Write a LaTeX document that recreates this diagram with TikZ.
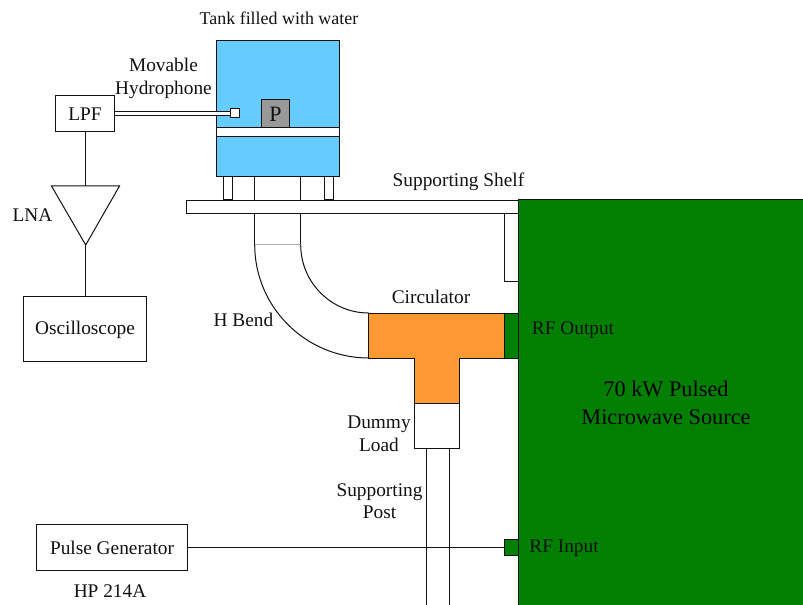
\documentclass[tikz,border=0pt]{standalone}
\usepackage{fontspec}
\setmainfont{Liberation Serif}
\definecolor{tankblue}{HTML}{66CCFF}
\definecolor{circorange}{HTML}{FF9933}
\definecolor{srcgreen}{HTML}{007F00}
\definecolor{pgray}{HTML}{999999}
\definecolor{lineink}{HTML}{111111}
\tikzset{
  ln/.style={draw=lineink,line width=1bp},
  box/.style={ln,fill=white,inner sep=0pt,outer sep=0pt},
  lbl/.style={inner sep=0pt,font=\fontsize{19.4}{23}\selectfont,align=center,text=lineink,yshift=-1.2bp},
  biglbl/.style={inner sep=0pt,font=\fontsize{22.4}{27.5}\selectfont,align=center,text=black},
}
\newcommand{\rbox}[6][]{\node[box,#1,minimum width=#4 bp - #3 bp,minimum height=#6 bp - #5 bp] (#2) at ({(#3+#4)/2},{(#5+#6)/2}) {};}
\begin{document}
\begin{tikzpicture}[x=1bp,y=-1bp]
\useasboundingbox (0,0) rectangle (803,605);
% shelf and its support
\rbox{shelf}{186.7}{518.3}{200.7}{213.3}
\coordinate (suppA) at (504.7,213.3);
\coordinate (suppB) at (504.7,281);
\coordinate (suppC) at (518.3,281);
\draw[ln] (suppA) -- (suppB) -- (suppC);
% source
\rbox[fill=srcgreen]{source}{518.3}{820}{200}{640}
\node[biglbl] (srclbl) at (666,403) {70 kW Pulsed\\Microwave Source};
\rbox[fill=srcgreen]{rfout}{504.7}{518.3}{313}{358}
\rbox[fill=srcgreen]{rfin}{504.4}{518.3}{539.7}{555.7}
\node[lbl] (rfoutl) at (573,328.5) {RF Output};
\node[lbl] (rfinl) at (564,547) {RF Input};
% tank
\rbox[fill=tankblue]{tank}{216.7}{339}{41}{176.7}
\rbox{band}{216.7}{339}{127.3}{136.3}
\rbox[fill=pgray]{pbox}{261.7}{289.3}{99.7}{127.3}
\node[lbl,font=\fontsize{22}{26}\selectfont] (plbl) at (pbox) {P};
\rbox{legL}{223.3}{232.3}{176.7}{199.6}
\rbox{legR}{324.3}{333.3}{176.7}{199.6}
\node[lbl,font=\fontsize{18}{23}\selectfont] (tanklbl) at (279,17) {Tank filled with water};
% waveguide
\coordinate (wgTL) at (254.7,176.7);
\coordinate (wgTR) at (300.7,176.7);
\coordinate (wgSL) at (254.7,200.7);
\coordinate (wgSR) at (300.7,200.7);
\coordinate (wgUL) at (254.7,213.3);
\coordinate (wgUR) at (300.7,213.3);
\coordinate (wgBL) at (254.7,244.7);
\coordinate (wgBR) at (300.7,244.7);
\coordinate (circUL) at (368.7,313);
\coordinate (circLL) at (368.7,358);
\draw[ln] (wgTL) -- (wgSL) (wgTR) -- (wgSR);
\draw[ln] (wgUL) -- (wgBL) (wgUR) -- (wgBR);
\draw[draw=pgray!80,line width=1.2bp] (wgBL) -- (wgBR);
\draw[ln] (wgBL) .. controls +(0,62.5) and +(-62.9,0) .. (circLL);
\draw[ln] (wgBR) .. controls +(0,37.7) and +(-37.5,0) .. (circUL);
% circulator
\draw[ln,fill=circorange] (circUL) -- (504.7,313) -- (504.7,358) -- (459.3,358) -- (459.3,403.3) -- (414,403.3) -- (414,358) -- (circLL) -- cycle;
\node[lbl] (circlbl) at (431,296) {Circulator};
\node[lbl] (hbend) at (243.5,319) {H Bend};
% dummy load and post
\rbox{dummy}{414}{459.3}{403.3}{448.7}
\node[lbl] (dummyl) at (379,433) {Dummy\\Load};
\coordinate (postLT) at (426.3,448.7);
\coordinate (postRT) at (449,448.7);
\coordinate (postLB) at (426.3,605);
\coordinate (postRB) at (449,605);
\draw[ln] (postLT) -- (postLB) (postRT) -- (postRB);
\node[lbl] (postl) at (379.5,500) {Supporting\\Post};
\node[lbl] (shelfl) at (458.5,181) {Supporting Shelf};
% receive chain
\rbox{lpf}{55.3}{114.7}{95.3}{131.3}
\node[lbl] (lpfl) at (lpf) {LPF};
\rbox{sensor}{230}{239.3}{108.7}{118}
\coordinate (cabA) at (lpf.east |- 0,111.3);
\coordinate (cabB) at (lpf.east |- 0,115.7);
\draw[ln,fill=white] (cabA) -- (sensor.west |- cabA) -- (sensor.west |- cabB) -- (cabB) -- cycle;
\node[lbl] (hydro) at (163.5,77.5) {Movable\\Hydrophone};
\coordinate (lnaL) at (51.5,186);
\coordinate (lnaR) at (119.5,186);
\coordinate (lnaB) at (85.7,245);
\coordinate (lnaT) at (85.7,186);
\draw[ln] (lnaL) -- (lnaR) -- (lnaB) -- cycle;
\node[lbl] (lnal) at (32.5,214) {LNA};
\rbox{osc}{23.5}{146.5}{296}{361}
\node[lbl] (oscl) at (osc) {Oscilloscope};
\draw[ln] (lpf.south -| lnaT) -- (lnaT);
\draw[ln] (lnaB) -- (osc.north -| lnaB);
% pulse generator
\rbox{pulse}{37}{187}{524}{570}
\node[lbl] (pulsel) at (pulse) {Pulse Generator};
\draw[ln] (pulse.east) -- (rfin.west |- pulse.east);
\node[lbl] (hp) at (110,590) {HP 214A};
\end{tikzpicture}
\end{document}
